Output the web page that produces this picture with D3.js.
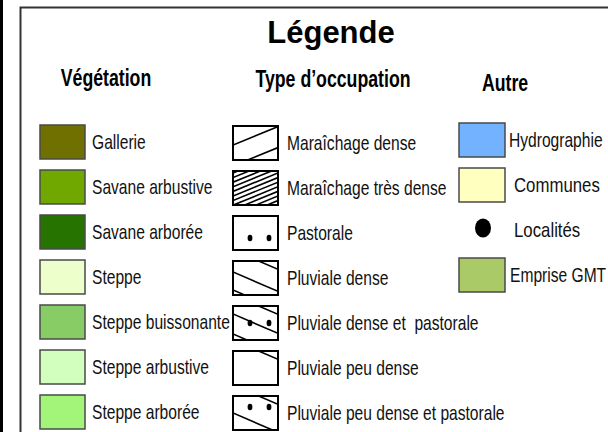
<!DOCTYPE html>
<html>
<head>
<meta charset="utf-8">
<script src="https://cdn.jsdelivr.net/npm/d3@7"></script>
<style>
  body { margin: 0; background: #fff; }
  svg { display: block; }
  .lbl { font-family: 'Liberation Sans', Arial, sans-serif; font-size: 20px; fill: #111; white-space: pre; }
  .head { font-family: 'Liberation Sans', Arial, sans-serif; font-weight: bold; font-size: 23px; fill: #000; }
</style>
</head>
<body>
<div id="chart"></div>
<script>
const title = "Légende";
const groupTitles = ["Végétation", "Type d’occupation", "Autre"];

const vegLabels = ["Gallerie", "Savane arbustive", "Savane arborée", "Steppe",
  "Steppe buissonante", "Steppe arbustive", "Steppe arborée"];
const vegColors = ["#707000", "#70a800", "#267300", "#edffcb",
  "#88cc66", "#d3ffbe", "#a3f57a"];

const occLabels = ["Maraîchage dense", "Maraîchage très dense", "Pastorale", "Pluviale dense",
  "Pluviale dense et  pastorale", "Pluviale peu dense", "Pluviale peu dense et pastorale"];
const occPatterns = ["rise", "riseDense", "dots", "fall", "fallDots", "fallLight", "fallLightDots"];

const otherLabels = ["Hydrographie", "Communes", "Localités", "Emprise GMT"];
const otherKinds = ["fill", "fill", "point", "fill"];
const otherColors = ["#73b2ff", "#ffffc0", "#000000", "#a9ca66"];

const width = 608, height = 432;
const swW = 45, swH = 34;
const narrow = 0.78;   // condensed look for labels

const svg = d3.select("#chart").append("svg")
  .attr("width", width)
  .attr("height", height);

// frame
svg.append("line")
  .attr("x1", 1.5).attr("x2", 1.5).attr("y1", 0).attr("y2", height)
  .attr("stroke", "#000").attr("stroke-width", 3);
svg.append("path")
  .attr("d", `M20.5,${height} V7.5 H${width}`)
  .attr("fill", "none").attr("stroke", "#333").attr("stroke-width", 2);

svg.append("text")
  .attr("x", 331).attr("y", 43)
  .attr("text-anchor", "middle")
  .style("font-family", "'Liberation Sans', Arial, sans-serif")
  .style("font-weight", "bold")
  .style("font-size", "31px")
  .text(title);

const headX = [106, 333, 505];
const headY = [86, 87, 91];
svg.selectAll(".head")
  .data(groupTitles)
  .join("text")
  .attr("class", "head")
  .attr("text-anchor", "middle")
  .attr("transform", (d, i) => `translate(${headX[i]},${headY[i]}) scale(0.77,1)`)
  .text(d => d);

function label(g, x, y, txt, sx = narrow) {
  g.append("text")
    .attr("class", "lbl")
    .attr("transform", `translate(${x},${y}) scale(${sx},1)`)
    .text(txt);
}

const row = d3.scalePoint().domain(d3.range(7)).range([125, 395]);

// vegetation
const veg = svg.append("g").attr("transform", "translate(40,0)");
veg.selectAll("rect")
  .data(vegLabels)
  .join("rect")
  .attr("x", 0)
  .attr("y", (d, i) => row(i))
  .attr("width", swW).attr("height", swH)
  .attr("fill", (d, i) => vegColors[i])
  .attr("stroke", "#4a4a4a").attr("stroke-width", 1.5);
vegLabels.forEach((d, i) => label(veg, 52, row(i) + swH / 2 + 7, d));

// occupation
const defs = svg.append("defs");
const occ = svg.append("g").attr("transform", "translate(233,0)");

function hatch(g, slope, offsets) {
  g.selectAll("line.h")
    .data(offsets)
    .join("line")
    .attr("class", "h")
    .attr("x1", 0).attr("y1", c => c)
    .attr("x2", swW).attr("y2", c => c + slope * swW)
    .attr("stroke", "#000").attr("stroke-width", 1.6);
}
function dots(g, y) {
  g.selectAll("ellipse")
    .data([17, 36])
    .join("ellipse")
    .attr("cx", d => d).attr("cy", y)
    .attr("rx", 2.4).attr("ry", 3.2)
    .attr("fill", "#000");
}

const patternDraw = {
  rise: g => hatch(g, -0.41, [19, 40]),
  riseDense: g => hatch(g, -0.41, d3.range(2, 56, 4.6)),
  dots: g => dots(g, 22),
  fall: g => hatch(g, 0.43, [-11, 11, 29]),
  fallDots: g => { hatch(g, 0.43, [-11, 8, 28]); dots(g, 17); },
  fallLight: g => hatch(g, 0.43, [-11]),
  fallLightDots: g => { hatch(g, 0.43, [-11, 17]); dots(g, 11); }
};

occLabels.forEach((txt, i) => {
  const y = row(i) + 1;
  defs.append("clipPath").attr("id", "clip" + i)
    .append("rect").attr("width", swW).attr("height", swH);
  const cell = occ.append("g").attr("transform", `translate(0,${y})`);
  cell.append("rect")
    .attr("width", swW).attr("height", swH)
    .attr("fill", "#fff");
  const inner = cell.append("g").attr("clip-path", `url(#clip${i})`);
  patternDraw[occPatterns[i]](inner);
  cell.append("rect")
    .attr("width", swW).attr("height", swH)
    .attr("fill", "none")
    .attr("stroke", "#000").attr("stroke-width", 2);
  label(occ, 54, y + swH / 2 + 7, txt);
});

// other (labels kept inside the page width)
const otherTextX = [50, 55, 55, 51];
const otherTextSx = [0.78, 0.84, 0.84, 0.78];
const oth = svg.append("g").attr("transform", "translate(459,-2)");
otherLabels.forEach((txt, i) => {
  const y = row(i);
  if (otherKinds[i] === "fill") {
    oth.append("rect")
      .attr("x", 0).attr("y", y)
      .attr("width", swW + 1).attr("height", swH)
      .attr("fill", otherColors[i])
      .attr("stroke", "#4a4a4a").attr("stroke-width", 1.5);
  } else {
    oth.append("ellipse")
      .attr("cx", 24).attr("cy", y + swH / 2 - 2)
      .attr("rx", 8).attr("ry", 9.5)
      .attr("fill", otherColors[i]);
  }
  label(oth, otherTextX[i], y + swH / 2 + 7, txt, otherTextSx[i]);
});
</script>
</body>
</html>
